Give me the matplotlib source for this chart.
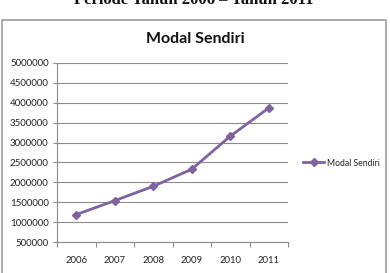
import matplotlib
matplotlib.use("Agg")
import matplotlib.pyplot as plt
from matplotlib.patches import Rectangle

years = ["2006", "2007", "2008", "2009", "2010", "2011"]
modal_sendiri = [1190000, 1540000, 1900000, 2330000, 3160000, 3870000]
y_ticks = [500000, 1000000, 1500000, 2000000, 2500000, 3000000, 3500000, 4000000, 4500000, 5000000]

W, H = 390, 273
fig = plt.figure(figsize=(W / 100, H / 100), dpi=100)
fig.patch.set_facecolor("white")

# outer chart frame
fig.patches.append(Rectangle((1.5 / W, -0.2), (386 - 1.5) / W, 1.2 - 20 / H,
                             transform=fig.transFigure, fill=False,
                             edgecolor="#a6a6a6", linewidth=1.3))

# cut-off heading above the chart
fig.text(194 / W, 1 - 4.5 / H, "Periode Tahun 2006 \u2013 Tahun 2011",
         family="Liberation Serif", weight="bold", fontsize=12,
         ha="center", va="baseline", color="#111111")

ax = fig.add_axes([57 / W, 1 - 242 / H, (288 - 57) / W, (242 - 63) / H])
color = "#7F63A1"
x = list(range(len(years)))
ax.plot(x, modal_sendiri, color=color, linewidth=2, marker="D", markersize=4.5,
        label="Modal Sendiri")

ax.set_xlim(-0.5, len(years) - 0.5)
ax.set_ylim(y_ticks[0], y_ticks[-1])
ax.set_yticks(y_ticks)
ax.set_yticklabels([str(v) for v in y_ticks], family="Lato", fontsize=7, color="#222222")
ax.yaxis.grid(True, color="#8c8c8c", linewidth=0.8)
ax.set_axisbelow(True)

ax.set_xticks([i - 0.5 for i in range(len(years) + 1)])
ax.set_xticklabels([])
ax.set_xticks(x, minor=True)
ax.set_xticklabels(years, minor=True, family="Lato", fontsize=6.8, color="#222222")
ax.tick_params(axis="x", which="major", length=3.5, color="#8c8c8c", width=0.8)
ax.tick_params(axis="x", which="minor", length=0, pad=10)
ax.tick_params(axis="y", length=3, color="#8c8c8c", width=0.8, pad=3)

for s in ["top", "right"]:
    ax.spines[s].set_visible(False)
for s in ["left", "bottom"]:
    ax.spines[s].set_color("#8c8c8c")
    ax.spines[s].set_linewidth(0.8)

fig.text(195 / W, 1 - 39 / H, "Modal Sendiri", family="Lato", weight="bold",
         fontsize=11.5, ha="center", va="center", color="#111111")

leg = ax.legend(loc="center left", bbox_to_anchor=(303 / W, 1 - 163 / H),
                bbox_transform=fig.transFigure, frameon=False,
                prop={"family": "Lato", "size": 6.2}, handlelength=2.45,
                handletextpad=0.35, borderaxespad=0, borderpad=0)
for t in leg.get_texts():
    t.set_color("#222222")

fig.savefig("out.png", dpi=100, facecolor="white")
